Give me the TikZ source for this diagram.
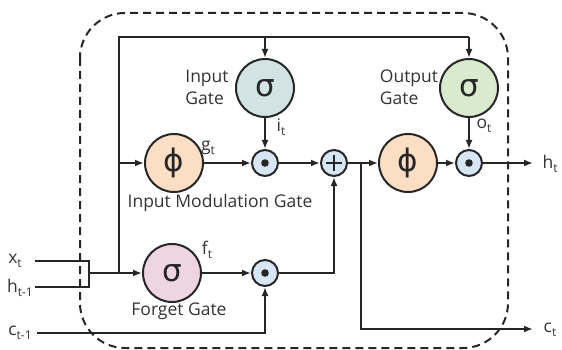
\documentclass[tikz,border=0pt]{standalone}
\usepackage{fontspec}
\setmainfont{Open Sans}
\newfontfamily\lstmgreek{DejaVu Sans}
\usetikzlibrary{arrows.meta}
\definecolor{lstmInGate}{RGB}{211,227,227}
\definecolor{lstmOutGate}{RGB}{217,235,207}
\definecolor{lstmForget}{RGB}{238,213,225}
\definecolor{lstmModul}{RGB}{251,222,196}
\definecolor{lstmOp}{RGB}{214,230,245}
\newcommand{\lstmsub}[1]{\raisebox{-0.45ex}{\fontsize{12}{12}\selectfont #1}}
\begin{document}
\begin{tikzpicture}[x=1pt, y=-1pt,
  gate/.style={circle, draw=\lstmLineColor, line width=\lstmLineWidth, minimum size=58pt, inner sep=0pt, text=black!85, font=\lstmgreek\fontsize{31}{31}\selectfont},
  op/.style={circle, draw=\lstmLineColor, line width=\lstmLineWidth, fill=lstmOp, minimum size=26pt, inner sep=0pt},
  wire/.style={draw=\lstmLineColor, line width=\lstmLineWidth, -{Latex[length=9pt,width=7pt]}},
  line/.style={draw=\lstmLineColor, line width=\lstmLineWidth},
  lbl/.style={text=black!80, inner sep=0pt, font=\fontsize{17.5}{22}\selectfont}]
% LSTM cell, pixel grid with y pointing down
\providecommand{\lstmLineColor}{black!85}
\providecommand{\lstmLineWidth}{2pt}
\useasboundingbox (0,0) rectangle (562,350);
% Cell frame
\draw[\lstmLineColor, line width=\lstmLineWidth, dash pattern=on 8pt off 5pt, rounded corners=45pt] (80,13) rectangle (508,348);
% Gates
\node[gate, fill=lstmInGate] (sigI) at (265,88) {σ};
\node[gate, fill=lstmOutGate] (sigO) at (469,88) {σ};
\node[gate, fill=lstmModul] (phiG) at (174,163) {ϕ};
\node[gate, fill=lstmModul] (phiC) at (408,163) {ϕ};
\node[gate, fill=lstmForget] (sigF) at (172,273) {σ};
% Products and sum
\begin{scope}[every node/.append style={op}]
  \node[path picture={\fill[\lstmLineColor] (path picture bounding box.center) circle (3.8pt);}] (mulI) at (265,163) {};
  \node[path picture={\fill[\lstmLineColor] (path picture bounding box.center) circle (3.8pt);}] (mulO) at (469,163) {};
  \node[path picture={\fill[\lstmLineColor] (path picture bounding box.center) circle (3.8pt);}] (mulF) at (265,273) {};
  \node[path picture={\draw[\lstmLineColor, line width=1.5pt] ([xshift=-8pt]path picture bounding box.center) -- ([xshift=8pt]path picture bounding box.center) ([yshift=-8pt]path picture bounding box.center) -- ([yshift=8pt]path picture bounding box.center);}] (plus) at (334,163) {};
\end{scope}
% Junctions and free ends
\coordinate (xIn) at (35,261);
\coordinate (xEnd) at (89,261);
\coordinate (hIn) at (35,287);
\coordinate (hEnd) at (89,287);
\coordinate (merge) at (89,273);
\coordinate (jF) at (119,273);
\coordinate (jG) at (119,163);
\coordinate (jTop) at (119,37);
\coordinate (jI) at (265,37);
\coordinate (jO) at (469,37);
\coordinate (cIn) at (37,333);
\coordinate (jC) at (361,163);
\coordinate (hOut) at (533,163);
\coordinate (cOut) at (533,329);
% Inputs
\draw[line] (xIn) -- (xEnd) -- (hEnd) -- (hIn);
\draw[wire] (merge) -- (sigF);
\draw[line] (jF) -- (jTop) -- (jO);
\draw[wire] (jO) -- (sigO);
\draw[wire] (jI) -- (sigI);
\draw[wire] (jG) -- (phiG);
\draw[wire] (cIn) -| (mulF);
% Gate outputs
\draw[wire] (phiG) -- (mulI);
\draw[wire] (sigI) -- (mulI);
\draw[wire] (sigF) -- (mulF);
\draw[wire] (mulF) -| (plus);
\draw[wire] (mulI) -- (plus);
\draw[wire] (plus) -- (phiC);
\draw[wire] (phiC) -- (mulO);
\draw[wire] (sigO) -- (mulO);
\draw[wire] (mulO) -- (hOut);
\draw[wire] (jC) |- (cOut);
% Labels
\begin{scope}[every node/.append style={lbl}]
  \node[align=left] (lblI) at (207,87) {Input\\Gate};
  \node[align=left] (lblO) at (409,87) {Output\\Gate};
  \node (lblG) at (220,203) {Input Modulation Gate};
  \node (lblF) at (179,311) {Forget Gate};
  \node (it) at (281,127) {i\lstmsub{t}};
  \node (gt) at (208,148) {g\lstmsub{t}};
  \node (ot) at (484,126) {o\lstmsub{t}};
  \node (ft) at (207,250) {f\lstmsub{t}};
  \node (xt) at (15,261) {x\lstmsub{t}};
  \node (htm) at (20,288) {h\lstmsub{t-1}};
  \node (ctm) at (20,333) {c\lstmsub{t-1}};
  \node (ht) at (550,164) {h\lstmsub{t}};
  \node (ct) at (550,330) {c\lstmsub{t}};
\end{scope}
\end{tikzpicture}
\end{document}
